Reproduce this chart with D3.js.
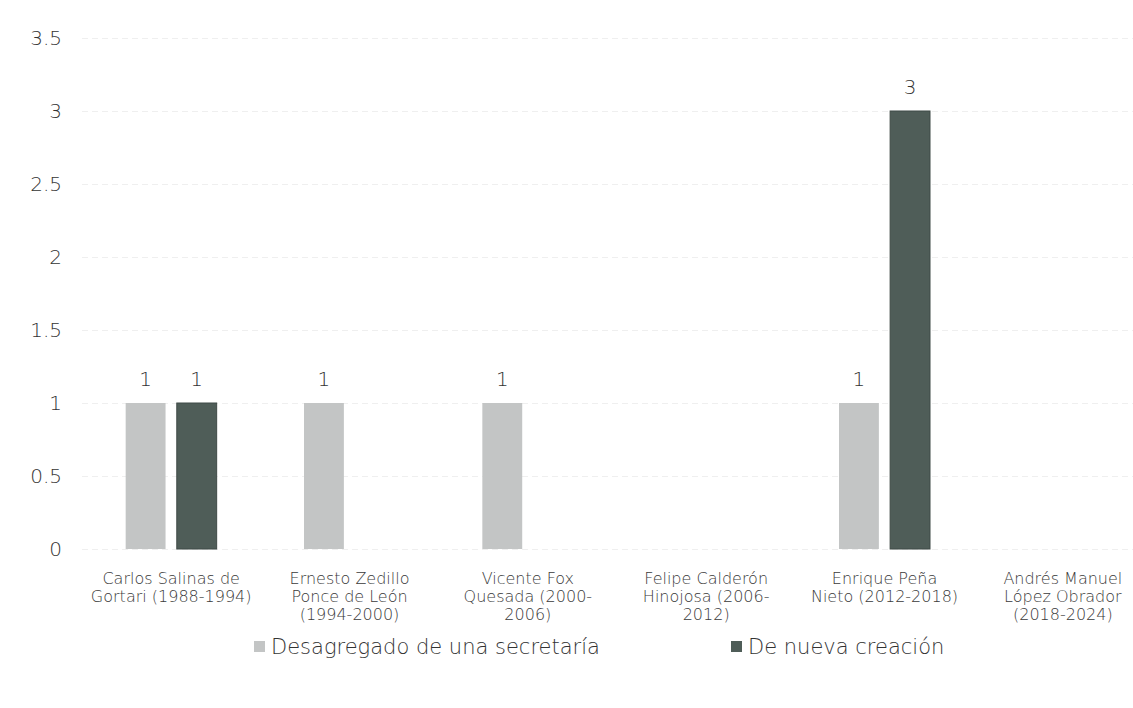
<!DOCTYPE html>
<html>
<head>
<meta charset="utf-8">
<script src="https://cdn.jsdelivr.net/npm/d3@7"></script>
<style>
  body { margin: 0; background: #fff; }
  svg { display: block; }
  svg text { font-family: "DejaVu Sans", "Open Sans", sans-serif; font-weight: 200; }
  .grid line { stroke: #efefef; stroke-dasharray: 6 4; }
  .grid path { display: none; }
</style>
</head>
<body>
<div id="chart"></div>
<script>
// categories (tick labels already split in lines)
var presidentes = [
  ["Carlos Salinas de", "Gortari (1988-1994)"],
  ["Ernesto Zedillo", "Ponce de León", "(1994-2000)"],
  ["Vicente Fox", "Quesada (2000-", "2006)"],
  ["Felipe Calderón", "Hinojosa (2006-", "2012)"],
  ["Enrique Peña", "Nieto (2012-2018)"],
  ["Andrés Manuel", "López Obrador", "(2018-2024)"]
];
var series = ["Desagregado de una secretaría", "De nueva creación"];
var desagregado = [1, 1, 1, 0, 1, 0];
var nuevaCreacion = [1, 0, 0, 0, 3, 0];
var yTicks = [0, 0.5, 1, 1.5, 2, 2.5, 3, 3.5];
var colores = ["#c3c5c5", "#4f5d58"];

var width = 1133, height = 708;

// build rows for the grouped bars
var data = presidentes.map(function(p, i) {
  return { name: p.join(" "), lines: p, values: [desagregado[i], nuevaCreacion[i]] };
});

var svg = d3.select("#chart").append("svg")
    .attr("width", width)
    .attr("height", height);

// scales
var x0 = d3.scaleBand()
    .domain(data.map(d => d.name))
    .range([82, 1152])
    .padding(0);

var x1 = d3.scaleBand()
    .domain(series)
    .range([-45.5, 45.5])
    .paddingInner(0.22);

var y = d3.scaleLinear()
    .domain([0, 3.5])
    .range([549, 38]);

// gridlines
svg.append("g")
    .attr("class", "grid")
    .attr("transform", "translate(82,0)")
    .call(d3.axisLeft(y).tickValues(yTicks).tickSize(-(width - 82)).tickFormat(""));

// y axis labels
var yAxis = svg.append("g")
    .attr("transform", "translate(62,0)")
    .call(d3.axisLeft(y).tickValues(yTicks).tickSize(0).tickPadding(0).tickFormat(d3.format("")))
    .attr("font-family", null)
    .attr("font-size", null);
yAxis.select(".domain").remove();
yAxis.selectAll("text")
    .style("font-size", "20px")
    .attr("fill", "#333");

// bars
var groups = svg.selectAll(".grupo")
    .data(data)
    .enter().append("g")
    .attr("class", "grupo")
    .attr("transform", d => "translate(" + (x0(d.name) + x0.bandwidth() / 2) + ",0)");

var bars = groups.selectAll("g.barra")
    .data(d => d.values.map((v, i) => ({ serie: series[i], value: v, idx: i })).filter(b => b.value > 0))
    .enter().append("g")
    .attr("class", "barra");

bars.append("rect")
    .attr("x", d => x1(d.serie))
    .attr("width", x1.bandwidth())
    .attr("y", d => y(d.value))
    .attr("height", d => y(0) - y(d.value))
    .attr("fill", d => colores[d.idx])
    .attr("stroke", d => d.idx === 1 ? "#3f4a46" : "none")
    .attr("stroke-width", 1);

// value labels
bars.append("text")
    .attr("x", d => x1(d.serie) + x1.bandwidth() / 2)
    .attr("y", d => y(d.value) - 17)
    .attr("text-anchor", "middle")
    .style("font-size", "20px")
    .attr("fill", "#333")
    .text(d => d.value);

// x axis labels
var xAxis = svg.append("g")
    .attr("transform", "translate(0,549)")
    .call(d3.axisBottom(x0).tickSize(0).tickFormat(""))
    .attr("font-family", null)
    .attr("font-size", null);
xAxis.select(".domain").remove();
xAxis.selectAll(".tick").each(function(d, i) {
  var t = d3.select(this).append("text")
      .attr("text-anchor", "middle")
      .attr("fill", "#3a3a3a")
      .style("font-size", "16px");
  data[i].lines.forEach(function(line, k) {
    t.append("tspan")
        .attr("x", 0)
        .attr("y", 35 + k * 18)
        .text(line);
  });
});

// legend
var legendPos = [254, 731];
var legend = svg.selectAll(".leyenda")
    .data(series)
    .enter().append("g")
    .attr("class", "leyenda")
    .attr("transform", (d, i) => "translate(" + legendPos[i] + ",647)");

legend.append("rect")
    .attr("x", 0)
    .attr("y", -6)
    .attr("width", 11)
    .attr("height", 11)
    .attr("fill", (d, i) => colores[i]);

legend.append("text")
    .attr("x", 17)
    .attr("y", 7)
    .style("font-size", "21px")
    .attr("fill", "#333")
    .text(d => d);
</script>
</body>
</html>
